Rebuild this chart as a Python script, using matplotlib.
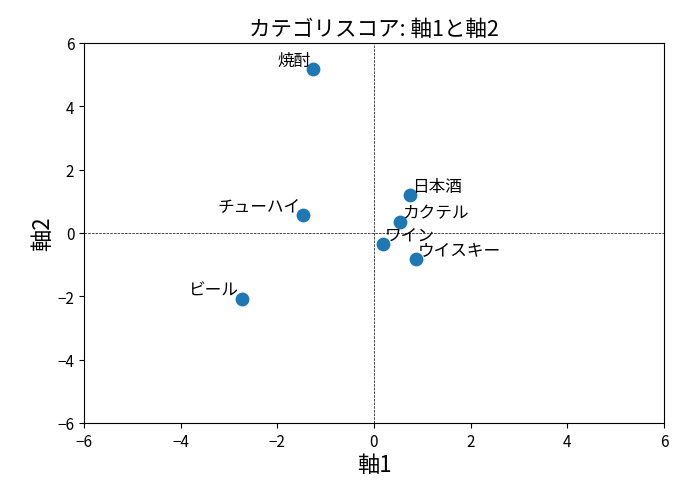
import matplotlib
matplotlib.use("Agg")
import matplotlib.pyplot as plt

plt.rcParams['font.family'] = ['Noto Sans CJK JP', 'DejaVu Sans']

labels = ["焼酎", "日本酒", "チューハイ", "カクテル", "ワイン", "ウイスキー", "ビール"]
axis1 = [-1.26, 0.74, -1.47, 0.54, 0.19, 0.87, -2.73]
axis2 = [5.18, 1.19, 0.57, 0.36, -0.35, -0.82, -2.09]

fig = plt.figure(figsize=(6.81, 4.85), dpi=100)
ax = fig.add_axes([84/681, 1-424/485, 580/681, 380/485])
ax.scatter(axis1, axis2, s=80, color='#1f77b4', zorder=3)
for name, x, y in zip(labels, axis1, axis2):
    if x < 0:
        ax.annotate(name, (x, y), xytext=(-2, 3), textcoords='offset points',
                    ha='right', va='baseline', fontsize=12)
    else:
        ax.annotate(name, (x, y), xytext=(1.5, 3), textcoords='offset points',
                    ha='left', va='baseline', fontsize=12)
ax.axhline(0, color='black', linestyle='--', linewidth=0.5)
ax.axvline(0, color='black', linestyle='--', linewidth=0.5)
ax.set_xlim(-6, 6)
ax.set_ylim(-6, 6)
ax.set_xticks([-6, -4, -2, 0, 2, 4, 6])
ax.set_yticks([-6, -4, -2, 0, 2, 4, 6])
ax.tick_params(labelsize=11)
ax.set_xlabel("軸1", fontsize=16, labelpad=2)
ax.set_ylabel("軸2", fontsize=16, labelpad=2)
ax.set_title("カテゴリスコア: 軸1と軸2", fontsize=15.5)
fig.savefig("out.png", dpi=100)
